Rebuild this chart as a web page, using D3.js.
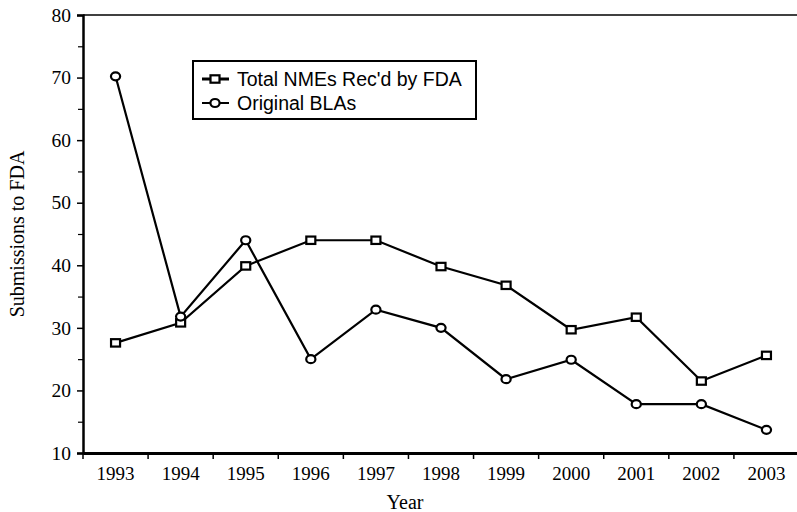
<!DOCTYPE html>
<html>
<head>
<meta charset="utf-8">
<script src="https://cdn.jsdelivr.net/npm/d3@7"></script>
<style>
  body { margin: 0; background: #fff; }
  svg { display: block; }
</style>
</head>
<body>
<div id="chart"></div>
<script>
// data
const years = ["1993", "1994", "1995", "1996", "1997", "1998", "1999", "2000", "2001", "2002", "2003"];
const totalNMEs = [27.6, 30.8, 39.9, 44, 44, 39.8, 36.8, 29.7, 31.7, 21.5, 25.6];
const originalBLAs = [70.2, 31.8, 44, 25, 32.9, 30, 21.8, 24.9, 17.8, 17.8, 13.7];
const yTicks = [10, 20, 30, 40, 50, 60, 70, 80];
const yMinorTicks = [15, 25, 35, 45, 55, 65, 75];
const seriesNames = ["Total NMEs Rec'd by FDA", "Original BLAs"];

const width = 797, height = 512;
const margin = { top: 15, right: -2, bottom: 59, left: 83 };

const svg = d3.select("#chart").append("svg")
  .attr("width", width)
  .attr("height", height);

const x = d3.scaleBand()
  .domain(years)
  .range([margin.left, width - margin.right]);

const y = d3.scaleLinear()
  .domain([10, 80])
  .range([height - margin.bottom, margin.top]);

const serif = "'Liberation Serif', 'Times New Roman', serif";
const sans = "'Liberation Sans', Arial, sans-serif";

// frame top line
svg.append("line")
  .attr("x1", margin.left).attr("x2", width)
  .attr("y1", y(80)).attr("y2", y(80))
  .attr("stroke", "#000").attr("stroke-width", 1.5);

// y axis
const yAxis = svg.append("g")
  .attr("transform", `translate(${margin.left},0)`)
  .call(d3.axisLeft(y).tickValues(yTicks).tickSize(6).tickPadding(6));
yAxis.select(".domain").attr("stroke-width", 2.5);
yAxis.selectAll(".tick line").attr("stroke-width", 1.5);
yAxis.selectAll("text")
  .style("font-family", serif).style("font-size", "19.5px").attr("fill", "#000");

svg.append("g")
  .attr("transform", `translate(${margin.left},0)`)
  .call(d3.axisLeft(y).tickValues(yMinorTicks).tickSize(5).tickFormat(""))
  .call(g => g.select(".domain").remove())
  .selectAll(".tick line").attr("stroke-width", 1.2);

// x axis, ticks at band edges
const xAxis = svg.append("g")
  .attr("transform", `translate(0,${y(10)})`)
  .call(d3.axisBottom(x).tickSize(0).tickPadding(14));
xAxis.select(".domain").attr("stroke-width", 3);
xAxis.selectAll("text")
  .style("font-family", serif).style("font-size", "19px").attr("fill", "#000");

svg.append("g")
  .selectAll("line")
  .data(years)
  .join("line")
  .attr("x1", d => x(d)).attr("x2", d => x(d))
  .attr("y1", y(10)).attr("y2", y(10) + 6)
  .attr("stroke", "#000").attr("stroke-width", 1.5);

// axis titles
svg.append("text")
  .attr("x", 405)
  .attr("y", 509)
  .attr("text-anchor", "middle")
  .style("font-family", serif).style("font-size", "20px")
  .text("Year");

svg.append("text")
  .attr("transform", `translate(24,${(y(10) + y(80)) / 2}) rotate(-90)`)
  .attr("text-anchor", "middle")
  .style("font-family", serif).style("font-size", "20px")
  .text("Submissions to FDA");

// lines
const cx = d => x(d) + x.bandwidth() / 2;
const line = d3.line()
  .x((d, i) => cx(years[i]))
  .y(d => y(d));

[totalNMEs, originalBLAs].forEach(vals => {
  svg.append("path")
    .datum(vals)
    .attr("d", line)
    .attr("fill", "none")
    .attr("stroke", "#000")
    .attr("stroke-width", 2.2);
});

function drawSquare(g, px, py) {
  g.append("rect")
    .attr("x", px - 4.5).attr("y", py - 3.7)
    .attr("width", 9).attr("height", 7.4)
    .attr("fill", "#fff").attr("stroke", "#000").attr("stroke-width", 2.2);
}
function drawCircle(g, px, py) {
  g.append("ellipse")
    .attr("cx", px).attr("cy", py)
    .attr("rx", 4.6).attr("ry", 4)
    .attr("fill", "#fff").attr("stroke", "#000").attr("stroke-width", 2.2);
}

const marks = svg.append("g");
totalNMEs.forEach((v, i) => drawSquare(marks, cx(years[i]), y(v)));
originalBLAs.forEach((v, i) => drawCircle(marks, cx(years[i]), y(v)));

// legend
const legend = svg.append("g").attr("transform", "translate(193,61)");
legend.append("rect")
  .attr("width", 283).attr("height", 58)
  .attr("fill", "#fff").attr("stroke", "#000").attr("stroke-width", 2);

seriesNames.forEach((name, i) => {
  const ly = 18 + i * 24;
  legend.append("line")
    .attr("x1", 9).attr("x2", 36)
    .attr("y1", ly).attr("y2", ly)
    .attr("stroke", "#000").attr("stroke-width", i === 0 ? 3 : 2);
  if (i === 0) drawSquare(legend, 22, ly);
  else drawCircle(legend, 22, ly);
  legend.append("text")
    .attr("x", 44).attr("y", ly + 7)
    .style("font-family", sans).style("font-size", "19.5px")
    .text(name);
});
</script>
</body>
</html>
